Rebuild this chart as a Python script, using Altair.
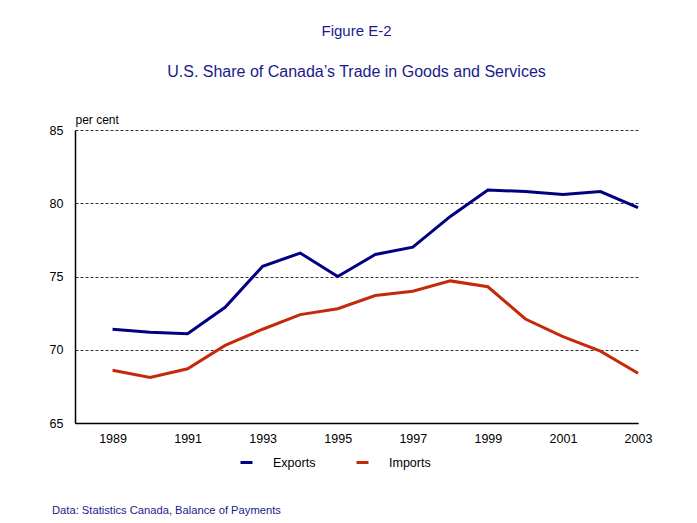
import altair as alt
import pandas as pd

years = list(range(1989, 2004))
exports = [71.4, 71.2, 71.1, 72.9, 75.7, 76.6, 75.0, 76.5, 77.0, 79.1, 80.9, 80.8, 80.6, 80.8, 79.7]
imports = [68.6, 68.1, 68.7, 70.3, 71.4, 72.4, 72.8, 73.7, 74.0, 74.7, 74.3, 72.1, 70.9, 69.9, 68.4]
series_names = ["Exports", "Imports"]
series_colors = ["#000080", "#C42A0A"]
tick_years = [1989, 1991, 1993, 1995, 1997, 1999, 2001, 2003]
y_ticks = [65, 70, 75, 80, 85]
title_text = "Figure E-2"
subtitle_text = "U.S. Share of Canada\u2019s Trade in Goods and Services"
y_title = "per cent"
source_text = "Data: Statistics Canada, Balance of Payments"

rows = []
for y, e, i in zip(years, exports, imports):
    rows.append({"year": y, "series": "Exports", "value": e})
    rows.append({"year": y, "series": "Imports", "value": i})
df = pd.DataFrame(rows)

FONT = "Liberation Sans"
W, H = 563, 293

lines = alt.Chart(df).mark_line(strokeWidth=3).encode(
    x=alt.X("year:Q",
            scale=alt.Scale(domain=[1988, 2003], nice=False, zero=False),
            axis=alt.Axis(values=tick_years, format="d", title=None, grid=False,
                          ticks=False, labelPadding=9, labelFontSize=12.5,
                          labelFlush=False,
                          labelColor="#000", domainColor="#000", domainWidth=1.5,
                          labelFont=FONT)),
    y=alt.Y("value:Q",
            scale=alt.Scale(domain=[65, 85], nice=False, zero=False),
            axis=alt.Axis(values=y_ticks, title=y_title, titleAngle=0,
                          titleX=0, titleY=-7, titleAlign="left",
                          titleBaseline="alphabetic", titleFontWeight="normal",
                          titleFontSize=12, titleFont=FONT, titleColor="#000",
                          ticks=False, labelPadding=12, labelFontSize=12.5,
                          labelFont=FONT, labelColor="#000",
                          domainColor="#000", domainWidth=1.5,
                          grid=True, gridColor="#333", gridDash=[3, 2],
                          gridWidth=1)),
    color=alt.Color("series:N",
                    scale=alt.Scale(domain=series_names, range=series_colors),
                    legend=alt.Legend(title=None, orient="none", direction="horizontal",
                                      legendX=164, legendY=325,
                                      symbolType="stroke", symbolStrokeWidth=3,
                                      symbolSize=144, labelOffset=19,
                                      columnPadding=34, labelFontSize=12.5,
                                      labelFont=FONT, labelColor="#000")),
)

source_df = pd.DataFrame({"t": [source_text]})
source = alt.Chart(source_df).mark_text(
    align="left", baseline="alphabetic", fontSize=11.2, font=FONT, color="#1a1a8c"
).encode(text="t:N", x=alt.value(-23), y=alt.value(384))

chart = alt.layer(lines, source).properties(
    width=W, height=H,
    title=alt.TitleParams(text=title_text, subtitle=subtitle_text,
                          anchor="middle", frame="group", offset=33,
                          font=FONT, fontSize=15, fontWeight="normal",
                          color="#1a1a8c", subtitleFont=FONT,
                          subtitleFontSize=16, subtitleColor="#1a1a8c",
                          subtitlePadding=25),
    autosize=alt.AutoSizeParams(type="none"),
    padding={"left": 67, "top": 122, "right": 51, "bottom": 98},
    background="white",
).configure_view(stroke=None)

chart.save("out.html", embed_options={"renderer": "svg", "actions": False})
